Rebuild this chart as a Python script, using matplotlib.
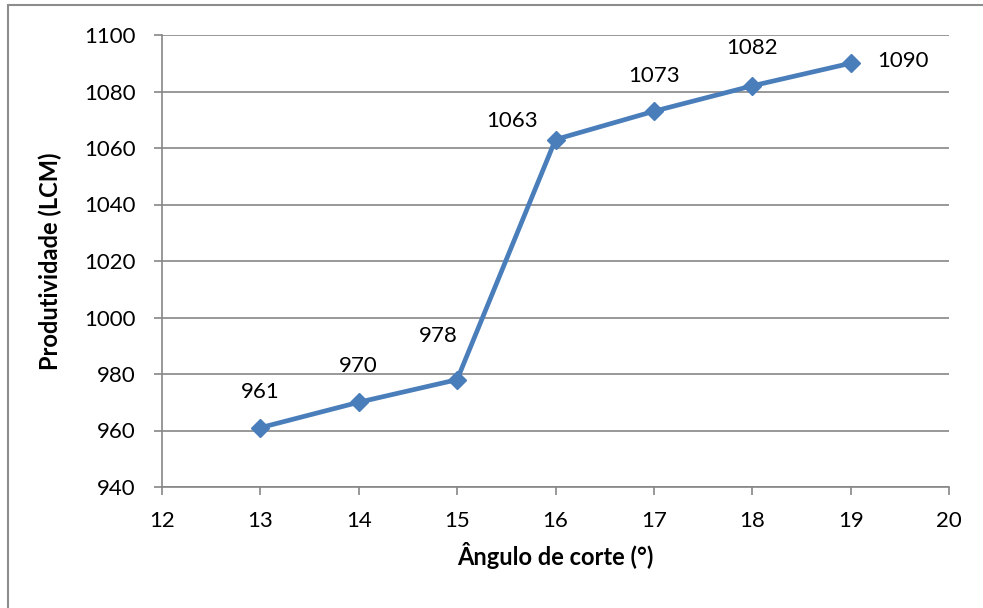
import matplotlib
matplotlib.use("Agg")
import matplotlib.pyplot as plt
from matplotlib.patches import Rectangle

angulo = [13, 14, 15, 16, 17, 18, 19]
produtividade = [961, 970, 978, 1063, 1073, 1082, 1090]
# label offsets in pixels (dx, dy) relative to each point
label_offsets = [(0, 36), (0, 36), (-19, 44), (-43, 19), (0, 35), (0, 38), (52, 2)]

plt.rcParams['font.family'] = ['Lato', 'DejaVu Sans']

fig = plt.figure(figsize=(9.83, 6.08), dpi=100)
ax = fig.add_axes([162 / 983, 1 - 487 / 608, 787 / 983, 452 / 608])

# chart frame
fig.patches.append(Rectangle((8 / 983, -0.1), 1.2, 1.1 - 5 / 608,
                             transform=fig.transFigure, fill=False,
                             edgecolor='#8c8c8c', linewidth=1.5))

ax.plot(angulo, produtividade, color='#4a7ebb', lw=3.4, marker='D',
        markersize=9, zorder=3)

for x, y, (dx, dy) in zip(angulo, produtividade, label_offsets):
    ax.annotate(str(y), (x, y), xytext=(dx, dy), textcoords='offset pixels',
                ha='center', va='center', fontsize=16, color='black')

ax.set_xlim(12, 20)
ax.set_ylim(940, 1100)
ax.set_xticks(range(12, 21))
ax.set_yticks(range(940, 1101, 20))
ax.grid(axis='y', color='#868686', lw=1.2)
ax.set_axisbelow(True)

for side in ['top', 'right']:
    ax.spines[side].set_visible(False)
for side in ['left', 'bottom']:
    ax.spines[side].set_color('#868686')
    ax.spines[side].set_linewidth(1.2)

ax.tick_params(direction='out', length=6, width=1.2, color='#868686',
               labelsize=16)
ax.tick_params(axis='x', pad=11)
ax.tick_params(axis='y', pad=13)

ax.set_xlabel('Ângulo de corte (°)', fontsize=17, fontweight='bold', labelpad=8)
ax.set_ylabel('Produtividade (LCM)', fontsize=17, fontweight='bold', labelpad=16)

fig.savefig('out.png', dpi=100)
